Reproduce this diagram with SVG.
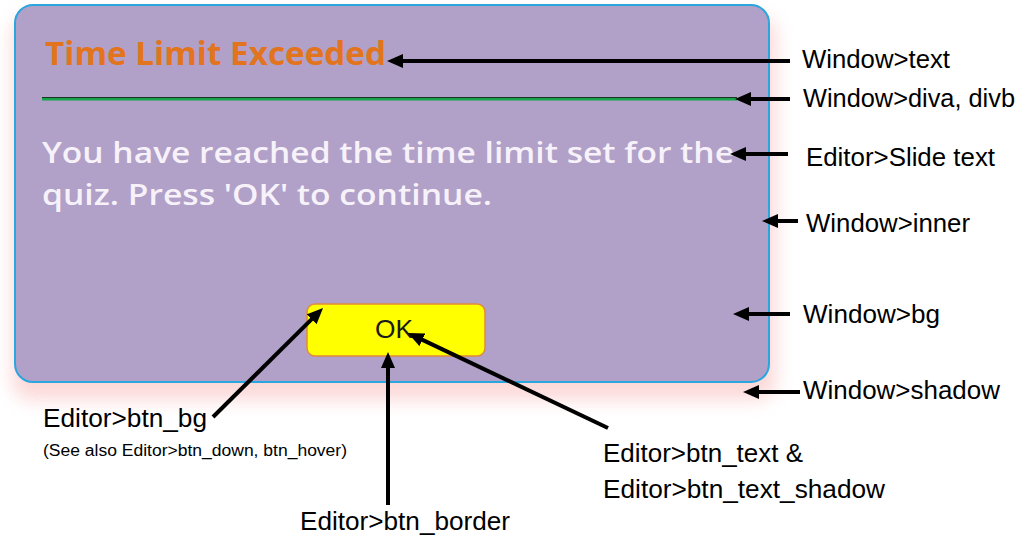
<svg xmlns="http://www.w3.org/2000/svg" width="1035" height="537" viewBox="0 0 1035 537">
<style>
.lbl{font-family:"Liberation Sans",Arial,sans-serif;font-size:25px;fill:#000}
.sm{font-family:"Liberation Sans",Arial,sans-serif;font-size:16px;fill:#000}
.con{stroke:#000;stroke-width:4;fill:none;marker-end:url(#ah)}
</style>
<defs>
<marker id="ah" markerUnits="userSpaceOnUse" markerWidth="16" markerHeight="14" refX="4" refY="7" orient="auto">
<path d="M0,0 L16,7 L0,14 z" fill="#000"/>
</marker>
<filter id="glow" x="-10%" y="-10%" width="120%" height="130%">
<feGaussianBlur stdDeviation="9"/>
</filter>
</defs>
<rect width="1035" height="537" fill="#fff"/>
<g id="window">
<rect x="12" y="16" width="764" height="384" rx="20" fill="#fbcfcf" opacity="0.8" filter="url(#glow)"/>
<rect x="15" y="5" width="754" height="377" rx="18" fill="#b1a0c7" stroke="#2aa6df" stroke-width="2"/>
</g>
<g id="title">
<text x="45" y="65" font-family="'Open Sans',sans-serif" font-weight="bold" font-size="32" fill="#e2741d" textLength="341" lengthAdjust="spacingAndGlyphs">Time Limit Exceeded</text>
</g>
<g id="divider">
<rect x="42" y="97" width="695" height="1" fill="#1c3322"/>
<rect x="42" y="98" width="695" height="2.5" fill="#17a24c"/>
</g>
<g id="body">
<text x="42" y="163" font-family="'Open Sans',sans-serif" font-weight="600" font-size="28" fill="#f7f2fa" textLength="692" lengthAdjust="spacingAndGlyphs">You have reached the time limit set for the</text>
<text x="42" y="205" font-family="'Open Sans',sans-serif" font-weight="600" font-size="28" fill="#f7f2fa" textLength="450" lengthAdjust="spacingAndGlyphs">quiz. Press 'OK' to continue.</text>
</g>
<g id="button">
<rect x="307" y="304" width="178" height="52" rx="8" fill="#ffff00" stroke="#e08a3a" stroke-width="1.5"/>
<text x="375" y="338" font-family="'Liberation Sans',Arial,sans-serif" font-size="25" fill="#1a1a1a" textLength="38" lengthAdjust="spacingAndGlyphs">OK</text>
</g>
<g id="connectors">
<path class="con" d="M790,61 L399,61"/>
<path class="con" d="M790,99 L747,99"/>
<path class="con" d="M788,154 L742,154"/>
<path class="con" d="M798,221 L774,221"/>
<path class="con" d="M790,314 L745,314"/>
<path class="con" d="M800,392 L755,392"/>
<path class="con" d="M213,417 L314.5,316.4"/>
<path class="con" d="M388,505 L388,364"/>
<path class="con" d="M608,428 L418.8,338.1"/>
</g>
<g id="labels">
<text class="lbl" x="802" y="68" textLength="148" lengthAdjust="spacingAndGlyphs">Window&gt;text</text>
<text class="lbl" x="803" y="107" textLength="212" lengthAdjust="spacingAndGlyphs">Window&gt;diva, divb</text>
<text class="lbl" x="806" y="166" textLength="189" lengthAdjust="spacingAndGlyphs">Editor&gt;Slide text</text>
<text class="lbl" x="806" y="232" textLength="164" lengthAdjust="spacingAndGlyphs">Window&gt;inner</text>
<text class="lbl" x="803" y="323" textLength="137" lengthAdjust="spacingAndGlyphs">Window&gt;bg</text>
<text class="lbl" x="803" y="399" textLength="197" lengthAdjust="spacingAndGlyphs">Window&gt;shadow</text>
<text class="lbl" x="43" y="427" textLength="164" lengthAdjust="spacingAndGlyphs">Editor&gt;btn_bg</text>
<text class="sm" x="43" y="456" textLength="304" lengthAdjust="spacingAndGlyphs">(See also Editor&gt;btn_down, btn_hover)</text>
<text class="lbl" x="603" y="462" textLength="200" lengthAdjust="spacingAndGlyphs">Editor&gt;btn_text &amp;</text>
<text class="lbl" x="603" y="498" textLength="282" lengthAdjust="spacingAndGlyphs">Editor&gt;btn_text_shadow</text>
<text class="lbl" x="300" y="530" textLength="210" lengthAdjust="spacingAndGlyphs">Editor&gt;btn_border</text>
</g>
</svg>
